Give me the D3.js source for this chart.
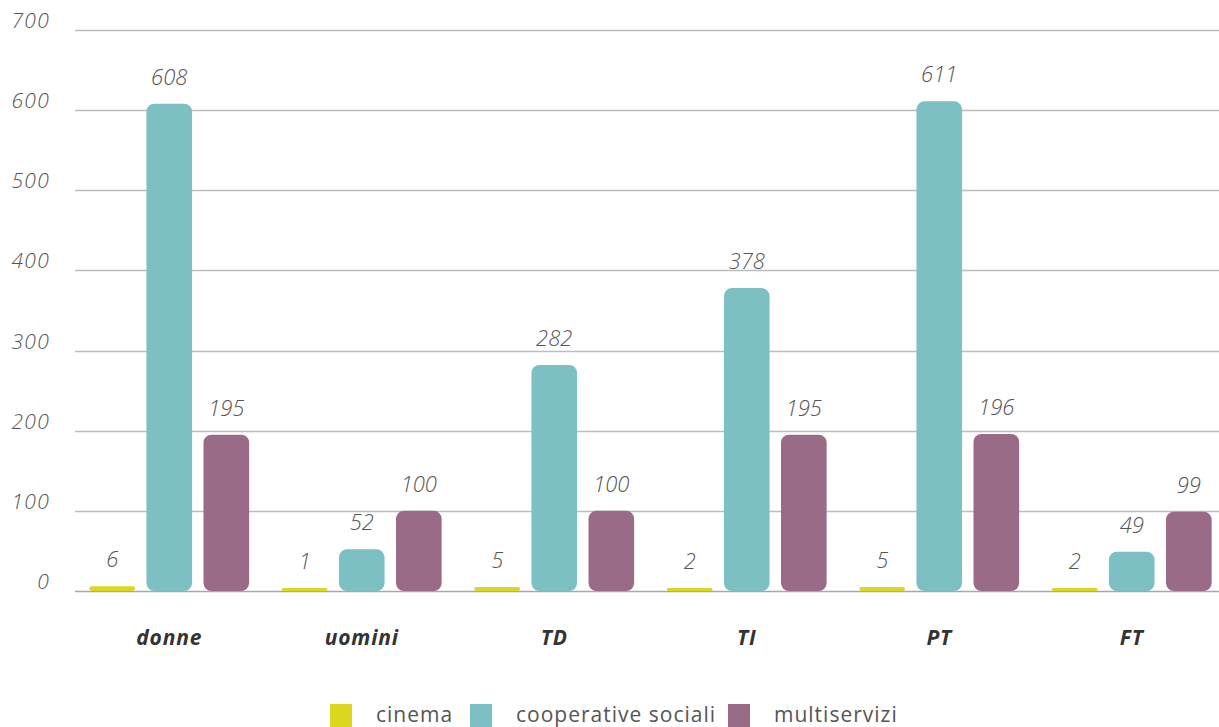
<!DOCTYPE html>
<html>
<head>
<meta charset="utf-8">
<script src="https://cdn.jsdelivr.net/npm/d3@7"></script>
<style>
  html, body { margin: 0; padding: 0; background: #fff; }
  svg { display: block; font-family: "Open Sans", sans-serif; }
</style>
</head>
<body>
<svg id="chart" width="1219" height="727"></svg>
<script>
// Categories and series
const categories = ["donne", "uomini", "TD", "TI", "PT", "FT"];
const seriesNames = ["cinema", "cooperative sociali", "multiservizi"];
const cinema = [6, 1, 5, 2, 5, 2];
const cooperativeSociali = [608, 52, 282, 378, 611, 49];
const multiservizi = [195, 100, 100, 195, 196, 99];
const yTicks = [0, 100, 200, 300, 400, 500, 600, 700];
const colors = ["#dcd81e", "#7cc0c4", "#9a6b86"];

const seriesValues = [cinema, cooperativeSociali, multiservizi];
const rows = categories.map((c, i) => ({
  category: c,
  values: seriesNames.map((s, j) => ({ series: s, idx: j, value: seriesValues[j][i] }))
}));

const svg = d3.select("#chart");

const y = d3.scaleLinear().domain([0, 700]).range([591, 30]);
const x0 = d3.scaleBand().domain(categories).range([73, 1228]).paddingInner(0.17).paddingOuter(0.085);
const x1 = d3.scaleBand().domain(seriesNames).range([0, x0.bandwidth()]).paddingInner(0.2);

// Gridlines
svg.append("g")
  .selectAll("line")
  .data(yTicks)
  .join("line")
  .attr("x1", 75).attr("x2", 1219)
  .attr("y1", d => Math.round(y(d)) + 0.5).attr("y2", d => Math.round(y(d)) + 0.5)
  .attr("stroke", d => d === 0 ? "#a8a8a8" : "#bdbdbd")
  .attr("stroke-width", 1.3);

// Y tick labels
svg.append("g")
  .selectAll("text")
  .data(yTicks)
  .join("text")
  .attr("x", 50)
  .attr("y", d => y(d) - 2)
  .attr("text-anchor", "end")
  .attr("font-size", 21)
  .attr("letter-spacing", 1.3)
  .attr("font-style", "italic")
  .attr("font-weight", 300)
  .attr("fill", "#555")
  .text(d => d);

// Bars
const groups = svg.append("g")
  .selectAll("g")
  .data(rows)
  .join("g")
  .attr("transform", d => `translate(${x0(d.category)},0)`);

const minH = 3;
groups.selectAll("rect")
  .data(d => d.values)
  .join("rect")
  .attr("x", d => x1(d.series))
  .attr("width", x1.bandwidth())
  .attr("y", d => Math.min(y(d.value), y(0) - minH))
  .attr("height", d => Math.max(y(0) - y(d.value), minH))
  .attr("rx", d => Math.min(8, Math.max(y(0) - y(d.value), minH) / 2))
  .attr("fill", d => colors[d.idx]);

// Value labels
groups.selectAll("text.val")
  .data(d => d.values)
  .join("text")
  .attr("class", "val")
  .attr("x", d => x1(d.series) + x1.bandwidth() / 2)
  .attr("y", d => Math.min(y(d.value), y(0) - minH) - 19)
  .attr("text-anchor", "middle")
  .attr("font-size", 22)
  .attr("font-style", "italic")
  .attr("font-weight", 300)
  .attr("fill", "#555")
  .text(d => d.value);

// Category labels
svg.append("g")
  .selectAll("text")
  .data(categories)
  .join("text")
  .attr("x", d => x0(d) + x0.bandwidth() / 2)
  .attr("y", 645)
  .attr("text-anchor", "middle")
  .attr("font-size", 21)
  .attr("letter-spacing", 0.8)
  .attr("font-style", "italic")
  .attr("font-weight", 700)
  .attr("fill", "#333")
  .text(d => d);

// Legend
const legendX = [330, 470, 728];
const legend = svg.append("g")
  .selectAll("g")
  .data(seriesNames)
  .join("g")
  .attr("transform", (d, i) => `translate(${legendX[i]},704)`);
legend.append("rect")
  .attr("width", 22).attr("height", 23)
  .attr("fill", (d, i) => colors[i]);
legend.append("text")
  .attr("x", 46).attr("y", 17.5)
  .attr("font-size", 21)
  .attr("letter-spacing", 1)
  .attr("font-weight", 400)
  .attr("fill", "#555")
  .text(d => d);
</script>
</body>
</html>
